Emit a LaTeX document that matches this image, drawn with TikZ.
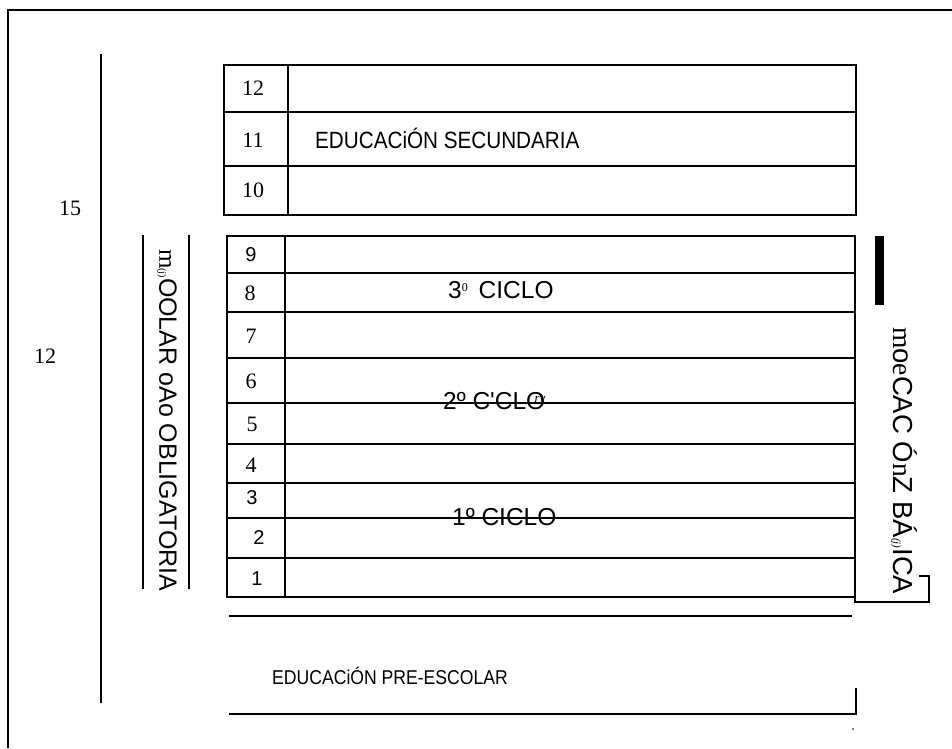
\documentclass[tikz,border=0pt]{standalone}
\usepackage{fontspec}
\setmainfont{Liberation Serif}
\newfontfamily\arial{Liberation Sans}
\newfontfamily\arialnarrow[FakeStretch=0.88]{Liberation Sans}
\tikzset{
  rule/.style={line width=1.3pt},
  heavyrule/.style={line width=2.4pt},
  frame/.style={line width=2pt},
  serifnum/.style={font=\fontsize{22}{22}\selectfont, inner sep=0pt},
  sansnum/.style={font=\arial\fontsize{20}{20}\selectfont, inner sep=0pt},
  title/.style={font=\arialnarrow\fontsize{23.5}{23.5}\selectfont, inner sep=0pt, anchor=west},
  cyclelabel/.style={font=\arial\fontsize{24.5}{24.5}\selectfont, inner sep=0pt, anchor=west},
  sidetext/.style={font=\arial\fontsize{25}{25}\selectfont, inner sep=0pt, anchor=west, rotate=-90}
}
\begin{document}
\begin{tikzpicture}[x=1pt,y=-1pt]
      \useasboundingbox (0,0) rectangle (952,748);
      \draw
        (70,208) node[serifnum] (y15){15}
        (45,356) node[serifnum] (y12){12}
        (253,88) node[serifnum] (g12){12}
        (253,140) node[serifnum] (g11){11}
        (253,190) node[serifnum] (g10){10}
        (251,255) node[sansnum] (g9){9}
        (250,293) node[serifnum] (g8){8}
        (251,336) node[serifnum] (g7){7}
        (251,381) node[serifnum] (g6){6}
        (252,424) node[serifnum] (g5){5}
        (251,465) node[serifnum] (g4){4}
        (252,498) node[sansnum] (g3){3}
        (259,538) node[sansnum] (g2){2}
        (257,579) node[sansnum] (g1){1};
      \draw
        (315,138) node[title] (secundaria){EDUCACiÓN SECUNDARIA}
        (448,290) node[cyclelabel] (ciclo3){3{\rmfamily\fontsize{12}{12}\selectfont\raisebox{7pt}{0}}\, CICLO}
        (443,401) node[cyclelabel] (ciclo2){2º C'CLO\llap{\raisebox{7pt}{\rmfamily\itshape\fontsize{13}{13}\selectfont rv}}}
        (452,517) node[cyclelabel] (ciclo1){1º CICLO}
        (272,676) node[title, font=\arialnarrow\fontsize{20}{20}\selectfont] (preescolar){EDUCACiÓN PRE-ESCOLAR}
        (167,249) node[sidetext] (obligatoria){{\rmfamily m}{\rmfamily\fontsize{10}{10}\selectfont(j)}OOLAR oAo OBLIGATORIA}
        (904,327) node[sidetext, font=\arial\fontsize{27.5}{27.5}\selectfont] (basica){{\rmfamily m}o{\rmfamily e}CAC Ó{\rmfamily n}Z BÁ{\rmfamily\itshape\fontsize{11}{11}\selectfont(j)}ICA};
      \begin{scope}[rule]
        \draw[frame] (952,10) -- (8,10) -- (8,748);
        \draw (101,54) -- (101,703);
        \draw (143,235) -- (143,589);
        \draw (189,235) -- (189,589);
        \draw (224,65) rectangle (856,215);
        \draw (288,65) -- (288,215);
        \draw (224,112) -- (856,112);
        \draw (224,166) -- (856,166);
        \draw (227,236) rectangle (855,597);
        \draw (285,236) -- (285,597);
        \draw (227,273) -- (855,273);
        \draw (227,312) -- (855,312);
        \draw[heavyrule] (227,358) -- (855,358);
        \draw (227,403) -- (855,403);
        \draw[heavyrule] (227,444) -- (855,444);
        \draw (227,483) -- (855,483);
        \draw (227,518) -- (855,518);
        \draw (227,558) -- (855,558);
        \draw (229,616) -- (852,616);
        \draw (229,714) -- (856,714);
        \draw[heavyrule] (856,688) -- (856,715);
        \draw (855,576) -- (855,602) -- (929,602) -- (929,576) -- (919,576);
      \end{scope}
      \fill (875,236) rectangle (884,305);
      \fill (853,729) circle (0.8);
    \end{tikzpicture}
\end{document}
